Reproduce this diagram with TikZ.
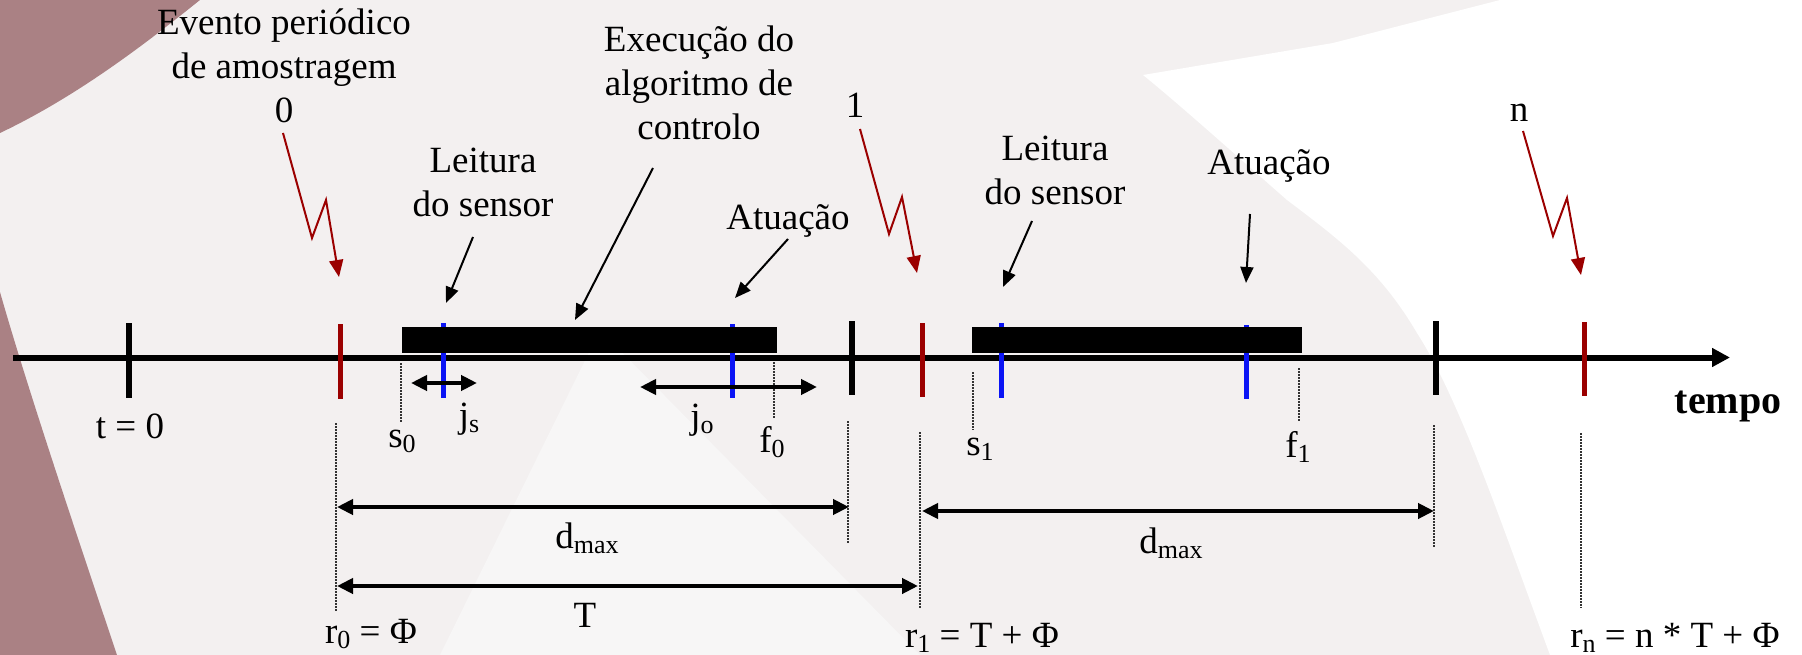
\documentclass[tikz,border=0pt]{standalone}
\usepackage{fontspec}
\setmainfont{Liberation Serif}
\usetikzlibrary{arrows.meta}
\definecolor{bggrey}{RGB}{243,240,240}
\definecolor{bglight}{RGB}{247,246,246}
\definecolor{swoosh}{RGB}{170,129,132}
\definecolor{evred}{RGB}{155,0,0}
\definecolor{tickblue}{RGB}{10,20,245}
\newcommand{\mlines}[1]{\begin{tabular}[t]{@{}c@{}}#1\end{tabular}}
\newcommand{\sbs}[1]{\raisebox{-5pt}{\fontsize{26}{26}\selectfont #1}}
\begin{document}
\begin{tikzpicture}[x=1pt,y=-1pt,
  lbl/.style={font=\fontsize{37}{44}\selectfont, inner sep=0pt, anchor=base},
  axisline/.style={line width=6pt, -{Triangle[length=18pt,width=18pt]}},
  blacktick/.style={line width=6pt, black},
  redtick/.style={line width=5pt, evred},
  bluetick/.style={line width=5pt, tickblue},
  guide/.style={line width=1.5pt, dash pattern=on 1.5pt off 1.5pt, black!80},
  dimarr/.style={line width=4pt, arrows={Triangle[length=16pt,width=15pt]-Triangle[length=16pt,width=15pt]}},
  pointer/.style={line width=2pt, -{Triangle[length=16pt,width=13pt]}},
  zigzag/.style={line width=2pt, evred, -{Triangle[length=17pt,width=14pt]}}]
\useasboundingbox (0,0) rectangle (1802,655);
% background
\fill[bggrey] (0,0) rectangle (1802,655);
\fill[bglight] (440,655) -- (600,330) -- (920,655) -- cycle;
\fill[white] (1143,75) -- (1333,43) -- (1500,0) -- (1802,0) -- (1802,655) -- (1550,655)
  .. controls (1500,520) and (1460,400) .. (1417,333)
  .. controls (1380,270) and (1340,240) .. (1287,200)
  .. controls (1230,150) and (1180,105) .. (1143,75) -- cycle;
\fill[swoosh] (0,0) -- (200,0) .. controls (150,40) and (80,95) .. (0,133) -- cycle;
\fill[swoosh] (0,292) .. controls (25,380) and (70,515) .. (117,655) -- (0,655) -- cycle;

% coordinates
\coordinate (axs) at (13,357.5);
\coordinate (axe) at (1730,357.5);

% axis
\draw[axisline] (axs) -- (axe);

% blue ticks
\draw[bluetick] (443,323) -- (443,398);
\draw[bluetick] (732,324) -- (732,398);
\draw[bluetick] (1001,323) -- (1001,398);
\draw[bluetick] (1246,325) -- (1246,399);

% execution bars
\fill[black] (402,327) rectangle (777,353);
\fill[black] (972,327) rectangle (1302,353);

% black and red ticks
\draw[blacktick] (129,323) -- (129,398);
\draw[blacktick] (852,321) -- (852,395);
\draw[blacktick] (1436,321) -- (1436,395);
\draw[redtick] (340,324) -- (340,399);
\draw[redtick] (922,323) -- (922,397);
\draw[redtick] (1584,322) -- (1584,396);

% dotted guides
\draw[guide] (401,363) -- (401,422);
\draw[guide] (774,362) -- (774,418);
\draw[guide] (336,423) -- (336,612);
\draw[guide] (848,421) -- (848,544);
\draw[guide] (920,432) -- (920,608);
\draw[guide] (973,372) -- (973,430);
\draw[guide] (1299,368) -- (1299,422);
\draw[guide] (1434,425) -- (1434,548);
\draw[guide] (1581,433) -- (1581,608);

% dimension arrows
\coordinate (jsL) at (411,383); \coordinate (jsR) at (477,383);
\coordinate (joL) at (640,387); \coordinate (joR) at (817,387);
\coordinate (d1L) at (337,507); \coordinate (d1R) at (849,507);
\coordinate (tL) at (337,586);  \coordinate (tR) at (918,586);
\coordinate (d2L) at (922,511); \coordinate (d2R) at (1434,511);
\draw[dimarr] (jsL) -- (jsR);
\draw[dimarr] (joL) -- (joR);
\draw[dimarr] (d1L) -- (d1R);
\draw[dimarr] (tL) -- (tR);
\draw[dimarr] (d2L) -- (d2R);

% top labels
\node[lbl] (evento) at (284,35) {\mlines{Evento periódico\\de amostragem\\0}};
\node[lbl] (exec) at (699,52) {\mlines{Execução do\\algoritmo de\\controlo}};
\node[lbl] (leit1) at (483,173) {\mlines{Leitura\\do sensor}};
\node[lbl] (atu1) at (788,230) {Atuação};
\node[lbl] (one) at (855,118) {1};
\node[lbl] (leit2) at (1055,161) {\mlines{Leitura\\do sensor}};
\node[lbl] (atu2) at (1269,175) {Atuação};
\node[lbl] (nn) at (1519,122) {n};

% bottom labels
\node[lbl] (t0) at (130,438) {t = 0};
\node[lbl] (s0) at (402,447) {s\sbs{0}};
\node[lbl] (js) at (469,427) {j\sbs{s}};
\node[lbl] (jo) at (702,428) {j\sbs{o}};
\node[lbl] (f0) at (772,452) {f\sbs{0}};
\node[lbl] (dmax1) at (587,548) {d\sbs{max}};
\node[lbl] (T) at (585,627) {T};
\node[lbl] (r0) at (371,643) {r\sbs{0} = Φ};
\node[lbl] (s1) at (980,455) {s\sbs{1}};
\node[lbl] (f1) at (1298,457) {f\sbs{1}};
\node[lbl] (dmax2) at (1171,553) {d\sbs{max}};
\node[lbl] (r1) at (982,647) {r\sbs{1} = T + Φ};
\node[lbl] (rn) at (1675,647) {r\sbs{n} = n * T + Φ};
\node[lbl, font=\fontsize{40}{48}\selectfont\bfseries] (tempo) at (1728,413) {tempo};

% pointer arrows
\coordinate (p1s) at (473,237); \coordinate (p1e) at (446,303);
\coordinate (p2s) at (653,168); \coordinate (p2e) at (575,320);
\coordinate (p3s) at (788,239); \coordinate (p3e) at (735,298);
\coordinate (p4s) at (1032,221); \coordinate (p4e) at (1003,287);
\coordinate (p5s) at (1250,214); \coordinate (p5e) at (1246,283);
\draw[pointer] (p1s) -- (p1e);
\draw[pointer] (p2s) -- (p2e);
\draw[pointer] (p3s) -- (p3e);
\draw[pointer] (p4s) -- (p4e);
\draw[pointer] (p5s) -- (p5e);

% zigzag event arrows
\coordinate (z0s) at (283,133); \coordinate (z0e) at (339,277);
\coordinate (z1s) at (860,129); \coordinate (z1e) at (917,273);
\coordinate (zns) at (1523,131); \coordinate (zne) at (1581,275);
\draw[zigzag] (z0s) -- (312,238) -- (326,200) -- (z0e);
\draw[zigzag] (z1s) -- (889,234) -- (902,197) -- (z1e);
\draw[zigzag] (zns) -- (1553,236) -- (1567,198) -- (zne);
\end{tikzpicture}
\end{document}
